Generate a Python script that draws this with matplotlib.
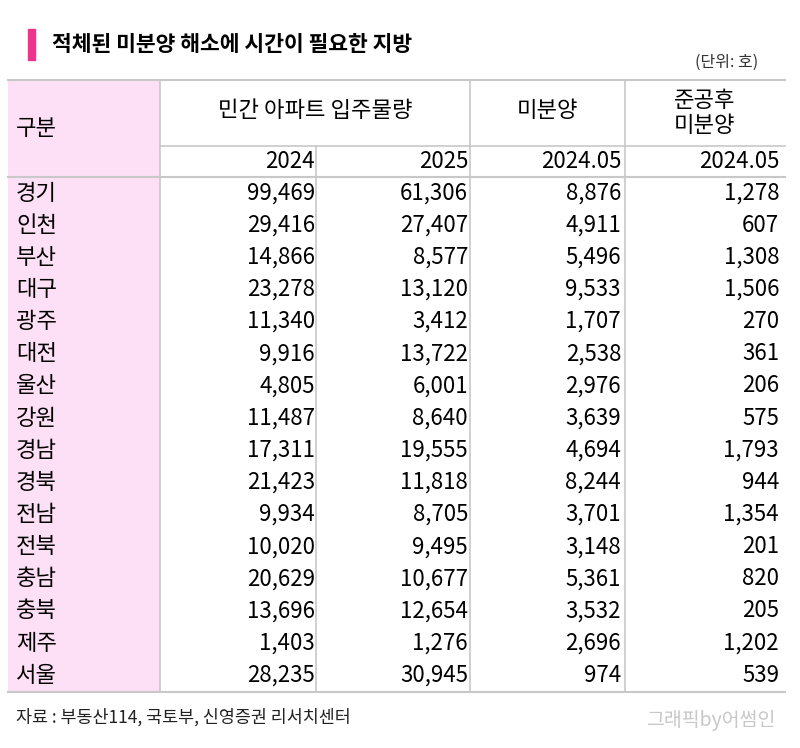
import matplotlib
matplotlib.use("Agg")
import matplotlib.pyplot as plt
from matplotlib.patches import Rectangle

plt.rcParams["font.family"] = ["Noto Sans CJK JP", "Noto Sans CJK KR",
                               "Noto Sans CJK SC", "DejaVu Sans"]

regions = ["경기", "인천", "부산", "대구", "광주", "대전", "울산", "강원",
           "경남", "경북", "전남", "전북", "충남", "충북", "제주", "서울"]
supply_2024 = [99469, 29416, 14866, 23278, 11340, 9916, 4805, 11487,
               17311, 21423, 9934, 10020, 20629, 13696, 1403, 28235]
supply_2025 = [61306, 27407, 8577, 13120, 3412, 13722, 6001, 8640,
               19555, 11818, 8705, 9495, 10677, 12654, 1276, 30945]
unsold_2405 = [8876, 4911, 5496, 9533, 1707, 2538, 2976, 3639,
               4694, 8244, 3701, 3148, 5361, 3532, 2696, 974]
after_2405 = [1278, 607, 1308, 1506, 270, 361, 206, 575,
              1793, 944, 1354, 201, 820, 205, 1202, 539]
sub_headers = ["2024", "2025", "2024.05", "2024.05"]

fig = plt.figure(figsize=(8.0, 7.48), dpi=100)
ax = fig.add_axes([0, 0, 1, 1])
ax.set_xlim(0, 800); ax.set_ylim(748, 0); ax.axis("off")

LC = "#c8c8c8"
top, h1, h2, bot = 80, 146, 177, 692
x0, xs, xr = 8, [160, 316, 470, 625], 785
rights = [315, 468, 621, 779]

# title
ax.add_patch(Rectangle((28, 29), 7, 31, color="#f0338c"))
ax.text(52, 44, "적체된 미분양 해소에 시간이 필요한 지방", fontsize=15.5,
        weight="bold", va="center", ha="left")
ax.text(758, 62, "(단위: 호)", fontsize=11.5, va="center", ha="right", color="#333")

# pink label column
ax.add_patch(Rectangle((x0, top), xs[0] - x0, bot - top, color="#fde0f5", lw=0))

# lines
ax.plot([x0, xr], [top, top], color=LC, lw=1.5)
ax.plot([xs[0], xr], [h1, h1], color=LC, lw=1.2)
ax.plot([x0, xr], [h2, h2], color=LC, lw=1.5)
ax.plot([x0, xr], [bot, bot], color=LC, lw=1.5)
for x in (xs[0], xs[2], xs[3]):
    ax.plot([x, x], [top, bot], color=LC, lw=1.2)
ax.plot([xs[1], xs[1]], [h1, bot], color=LC, lw=1.2)

# header
fs = 16
ax.text(16, 128, "구분", fontsize=fs, va="center", ha="left")
ax.text((xs[0] + xs[2]) / 2, 110, "민간 아파트 입주물량", fontsize=fs, va="center", ha="center")
ax.text((xs[2] + xs[3]) / 2, 110, "미분양", fontsize=fs, va="center", ha="center")
ax.text((xs[3] + xr) / 2, 113, "준공후\n미분양", fontsize=fs, va="center", ha="center",
        linespacing=1.1)
for r, s in zip(rights, sub_headers):
    ax.text(r, 161, s, fontsize=fs, va="center", ha="right")

# rows
cols = [supply_2024, supply_2025, unsold_2405, after_2405]
y0, dy = 193, 32.15
for i, name in enumerate(regions):
    y = y0 + i * dy
    ax.text(16, y, name, fontsize=fs, va="center", ha="left")
    for r, col in zip(rights, cols):
        ax.text(r, y, f"{col[i]:,}", fontsize=fs, va="center", ha="right")

ax.text(16, 717, "자료 : 부동산114, 국토부, 신영증권 리서치센터", fontsize=12.5,
        va="center", ha="left", color="#222")
ax.text(775, 720, "그래픽by어썸인", fontsize=14, va="center", ha="right", color="#c8c8c8")

fig.savefig("out.png", dpi=100)
